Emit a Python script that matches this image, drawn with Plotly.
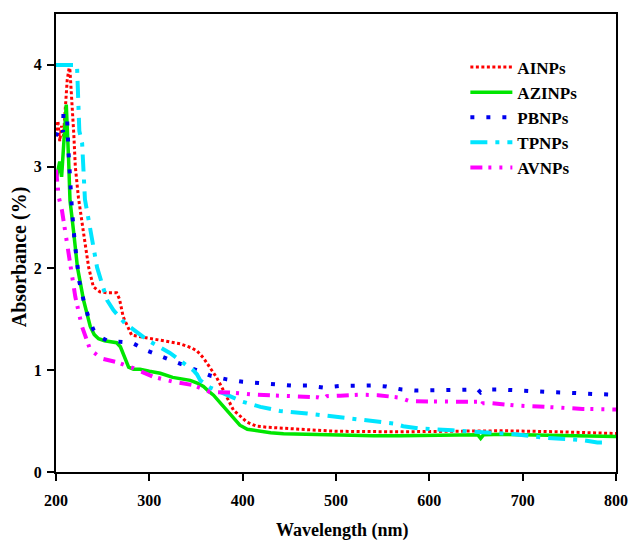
import plotly.graph_objects as go

# UV-Vis absorbance spectra of the nanoparticle samples
ainps_wl = [200, 202, 204, 206, 208, 210, 212, 214.6, 217, 219, 220.7, 224, 229.5, 235, 240, 247, 255, 265,
            268, 272, 281, 290, 297.5, 315, 333, 345, 351, 358, 365, 372, 379.5, 390, 404.5, 415, 426, 440,
            461.6, 500, 568.7, 620, 680, 740, 800]
ainps_abs = [3.30, 3.45, 3.25, 3.40, 3.30, 3.55, 3.85, 4.0, 3.66, 3.33, 3.0, 2.70, 2.35, 2.01, 1.82, 1.77, 1.76, 1.76,
             1.70, 1.525, 1.345, 1.33, 1.32, 1.29, 1.26, 1.22, 1.19, 1.12, 1.03, 0.93, 0.80, 0.61, 0.49, 0.45, 0.44, 0.43,
             0.42, 0.40, 0.395, 0.40, 0.405, 0.395, 0.378]

azinps_wl = [200, 202, 204, 206, 208, 211, 213.5, 215, 219, 223, 229.5, 236.7, 241, 245.6, 252, 261.7, 265, 269,
             274, 277.8, 283, 290, 300, 311.7, 325, 343.8, 352, 358, 364, 368.8, 376, 383, 390, 397, 405, 415,
             430, 443.8, 470, 497, 540, 568.7, 600, 640, 652, 655, 658, 680, 720, 760, 800]
azinps_abs = [2.87, 2.95, 3.05, 2.90, 3.15, 3.61, 3.07, 2.67, 2.35, 2.01, 1.69, 1.43, 1.35, 1.31, 1.29, 1.28, 1.27, 1.23,
              1.12, 1.03, 1.01, 1.01, 0.99, 0.97, 0.93, 0.90, 0.87, 0.84, 0.79, 0.755, 0.68, 0.61, 0.53, 0.46, 0.42, 0.404,
              0.385, 0.377, 0.37, 0.362, 0.357, 0.355, 0.36, 0.36, 0.365, 0.33, 0.365, 0.37, 0.365, 0.36, 0.35]

pbnps_wl = [200, 203, 205, 207.5, 208, 211.7, 213.5, 214.6, 216, 217, 220, 222.5, 225, 229.5, 235, 240, 246.7, 255,
            264.6, 270, 281.4, 298, 315, 332, 349, 366, 383, 400, 417, 435, 452, 469, 486, 503, 520, 538, 554,
            570.6, 586.6, 604, 621, 638, 652, 655, 661, 678, 695, 712, 729, 746, 763, 780, 797, 800]
pbnps_abs = [3.30, 3.38, 3.40, 3.34, 3.53, 3.51, 3.13, 2.95, 2.77, 2.59, 2.26, 2.05, 1.87, 1.69, 1.51, 1.40, 1.33, 1.29,
             1.28, 1.28, 1.27, 1.19, 1.13, 1.067, 1.0, 0.945, 0.91, 0.886, 0.875, 0.86, 0.85, 0.85, 0.83, 0.845, 0.85, 0.85, 0.84,
             0.81, 0.80, 0.805, 0.81, 0.81, 0.81, 0.78, 0.81, 0.81, 0.80, 0.795, 0.785, 0.78, 0.77, 0.765, 0.76, 0.76]

tpnps_wl = [200, 210, 222.5, 225, 228, 231, 237, 244, 254.6, 261.5, 274, 297.5, 322, 347, 351, 354.6, 365, 383,
            400, 419, 440, 469, 504, 540, 561.6, 572, 590, 625, 657, 692, 725, 764, 780, 785]
tpnps_abs = [4.0, 4.0, 4.0, 3.35, 3.23, 2.68, 2.35, 2.01, 1.69, 1.59, 1.46, 1.30, 1.17, 1.0, 0.96, 0.90, 0.83, 0.755,
             0.69, 0.64, 0.60, 0.575, 0.536, 0.50, 0.477, 0.45, 0.427, 0.41, 0.39, 0.37, 0.335, 0.313, 0.29, 0.29]

avnps_wl = [200, 203, 206.4, 210, 215, 220.7, 227.8, 236.7, 249, 265, 283, 304.5, 326, 347, 365, 387, 411.6, 454.5,
            480, 486.6, 490, 504.5, 526, 545, 568.7, 579, 603, 621, 644, 652, 655, 657, 667, 692, 710, 737, 764, 796, 800]
avnps_abs = [2.97, 2.70, 2.57, 2.35, 2.02, 1.72, 1.43, 1.20, 1.115, 1.08, 1.02, 0.935, 0.886, 0.853, 0.787, 0.78, 0.76, 0.74,
             0.735, 0.72, 0.745, 0.75, 0.76, 0.755, 0.73, 0.695, 0.69, 0.69, 0.69, 0.69, 0.65, 0.675, 0.675, 0.654, 0.648,
             0.634, 0.62, 0.614, 0.614]

series_names = ["AINPs", "AZINPs", "PBNPs", "TPNPs", "AVNPs"]
x_ticks = [200, 300, 400, 500, 600, 700, 800]
y_ticks = [0, 1, 2, 3, 4]

FONT = "Liberation Serif"

styles = [
    dict(color="#ff0000", width=3, dash="3px,2.5px"),
    dict(color="#00e600", width=3.5, dash="solid"),
    dict(color="#0000ee", width=4, dash="4px,12px"),
    dict(color="#00e5ff", width=4, dash="17px,8px,4px,8px"),
    dict(color="#ff00ff", width=4, dash="12px,6px,3px,8px,3px,8px"),
]
series = [(ainps_wl, ainps_abs), (azinps_wl, azinps_abs), (pbnps_wl, pbnps_abs),
          (tpnps_wl, tpnps_abs), (avnps_wl, avnps_abs)]

fig = go.Figure()
for name, (xs, ys), st in zip(series_names, series, styles):
    fig.add_trace(go.Scatter(x=xs, y=ys, mode="lines", name=name, line=st,
                             legendgroup=name))

axis_common = dict(
    showline=True, linecolor="black", linewidth=2, mirror=True,
    ticks="outside", ticklen=7, tickwidth=2, tickcolor="black",
    showgrid=False, zeroline=False, automargin=False,
    tickfont=dict(family=FONT, size=16, color="black", weight="bold"),
)

fig.update_layout(
    width=629, height=541,
    margin=dict(l=56, r=13, t=14, b=69),
    paper_bgcolor="white", plot_bgcolor="white",
    xaxis=dict(range=[200, 800], tickvals=x_ticks, ticklabelstandoff=6, **axis_common),
    yaxis=dict(range=[0, 4.5], tickvals=y_ticks, ticklabelstandoff=2, **axis_common),
    legend=dict(x=0.731, y=0.9225, xanchor="left", yanchor="top",
                bgcolor="rgba(0,0,0,0)", borderwidth=0, itemwidth=42,
                tracegroupgap=0,
                font=dict(family=FONT, size=17, color="black", weight="bold")),
    annotations=[
        dict(text="Absorbance (%)", xref="paper", yref="paper", x=-0.066, y=0.469,
             textangle=-90, showarrow=False, xanchor="center", yanchor="middle",
             font=dict(family=FONT, size=20, color="black", weight="bold")),
        dict(text="Wavelength (nm)", xref="paper", yref="paper", x=0.512, y=-0.127,
             showarrow=False, xanchor="center", yanchor="middle",
             font=dict(family=FONT, size=18, color="black", weight="bold")),
    ],
)

fig.write_html("out.html")
